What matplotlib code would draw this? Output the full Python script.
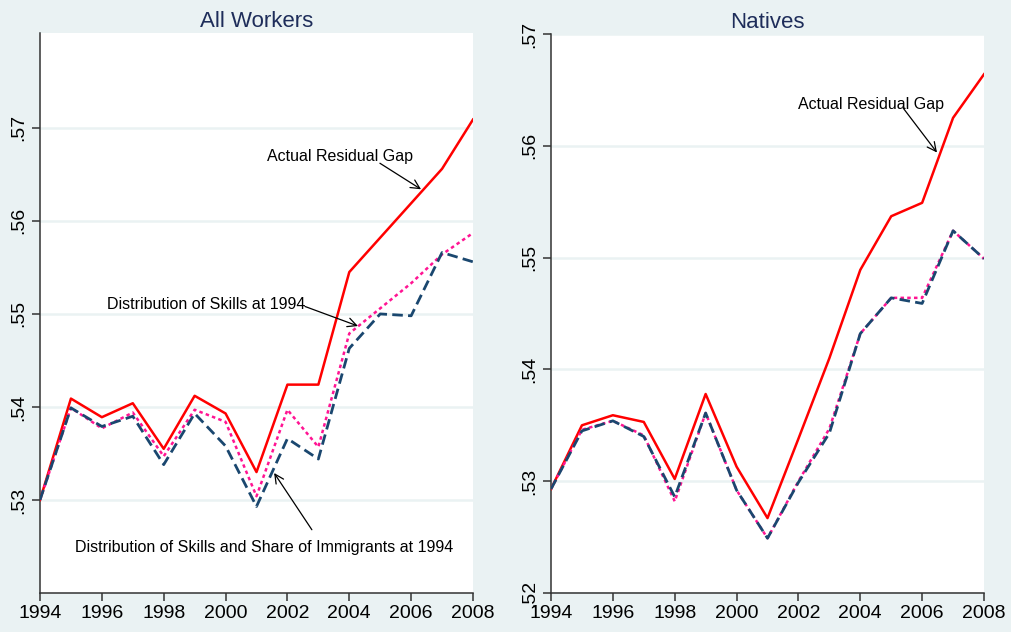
import matplotlib
matplotlib.use("Agg")
import matplotlib.pyplot as plt

plt.rcParams['font.family'] = ['Liberation Sans', 'DejaVu Sans']

years = list(range(1994, 2009))

# All Workers
all_actual = [0.5300, 0.5409, 0.5389, 0.5404, 0.5355, 0.5412, 0.5393, 0.5330,
              0.5424, 0.5424, 0.5545, 0.5582, 0.5619, 0.5656, 0.5709]
all_skills = [0.5300, 0.5399, 0.5377, 0.5394, 0.5347, 0.5397, 0.5384, 0.5304,
              0.5397, 0.5357, 0.5479, 0.5506, 0.5533, 0.5564, 0.5587]
all_skills_imm = [0.5300, 0.5399, 0.5379, 0.5390, 0.5338, 0.5393, 0.5358, 0.5293,
                  0.5366, 0.5344, 0.5463, 0.5500, 0.5498, 0.5566, 0.5556]

# Natives
nat_actual = [0.5293, 0.5350, 0.5359, 0.5353, 0.5302, 0.5378, 0.5313, 0.5267,
              0.5338, 0.5410, 0.5489, 0.5537, 0.5549, 0.5625, 0.5664]
nat_skills = [0.5293, 0.5346, 0.5354, 0.5341, 0.5282, 0.5361, 0.5292, 0.5249,
              0.5300, 0.5347, 0.5432, 0.5464, 0.5464, 0.5524, 0.5499]
nat_skills_imm = [0.5293, 0.5345, 0.5354, 0.5340, 0.5286, 0.5361, 0.5292, 0.5249,
                  0.5299, 0.5343, 0.5432, 0.5464, 0.5459, 0.5524, 0.5499]

xticks = [1994, 1996, 1998, 2000, 2002, 2004, 2006, 2008]
left_yticks = [0.53, 0.54, 0.55, 0.56, 0.57]
right_yticks = [0.52, 0.53, 0.54, 0.55, 0.56, 0.57]

BG = '#eaf2f3'
RED = '#ff0000'
PINK = '#ff1493'
NAVY = '#1a476f'
TITLE = '#1e2d5a'
AXC = '#333333'

fig = plt.figure(figsize=(10.12, 6.32), dpi=100, facecolor=BG)
axL = fig.add_axes([40/1012, 39/632, 433/1012, 560/632])
axR = fig.add_axes([551/1012, 39/632, 433/1012, 559/632])


def style(ax, title, ylim, yticks):
    ax.set_facecolor('white')
    ax.set_xlim(1994, 2008)
    ax.set_ylim(*ylim)
    ax.set_xticks(xticks)
    ax.set_xticklabels([str(x) for x in xticks], fontsize=14, color='black')
    ax.set_yticks(yticks)
    ax.set_yticklabels([('%.2f' % v).lstrip('0') for v in yticks], fontsize=14,
                       rotation=90, va='center', color='black')
    for s in ['top', 'right']:
        ax.spines[s].set_visible(False)
    for s in ['left', 'bottom']:
        ax.spines[s].set_color(AXC)
        ax.spines[s].set_linewidth(1.1)
    ax.tick_params(direction='out', length=6, width=1.1, color=AXC, pad=3)
    ax.grid(axis='y', color=BG, linewidth=1.8, zorder=0)
    ax.set_axisbelow(True)
    ax.set_title(title, fontsize=16, color=TITLE, pad=4)


def draw(ax, actual, skills, skills_imm):
    ax.plot(years, actual, color=RED, lw=1.8, zorder=3)
    ax.plot(years, skills, color=PINK, lw=1.8, linestyle=(0, (1.4, 1.3)), zorder=3)
    ax.plot(years, skills_imm, color=NAVY, lw=2.0, linestyle=(0, (3.8, 1.9)), zorder=4)


def note(ax, text, tpos, tail, head):
    ax.text(tpos[0], tpos[1], text, fontsize=11.5, ha='left', va='center', zorder=5)
    ax.annotate('', xy=head, xytext=tail,
                arrowprops=dict(arrowstyle='->', color='black', lw=0.9,
                                mutation_scale=16, shrinkA=0, shrinkB=0), zorder=5)


style(axL, 'All Workers', (0.52, 0.5802), left_yticks)
draw(axL, all_actual, all_skills, all_skills_imm)
note(axL, 'Actual Residual Gap', (2001.34, 0.5669), (2004.99, 0.5662), (2006.32, 0.5634))
note(axL, 'Distribution of Skills at 1994', (1996.17, 0.5510), (2002.57, 0.5508), (2004.28, 0.5487))
note(axL, 'Distribution of Skills and Share of Immigrants at 1994', (1995.13, 0.5249),
     (2002.79, 0.5268), (2001.57, 0.5329))

style(axR, 'Natives', (0.52, 0.57), right_yticks)
draw(axR, nat_actual, nat_skills, nat_skills_imm)
note(axR, 'Actual Residual Gap', (2001.99, 0.5637), (2005.38, 0.5634), (2006.48, 0.5594))

fig.savefig('out.png', dpi=100, facecolor=BG)
